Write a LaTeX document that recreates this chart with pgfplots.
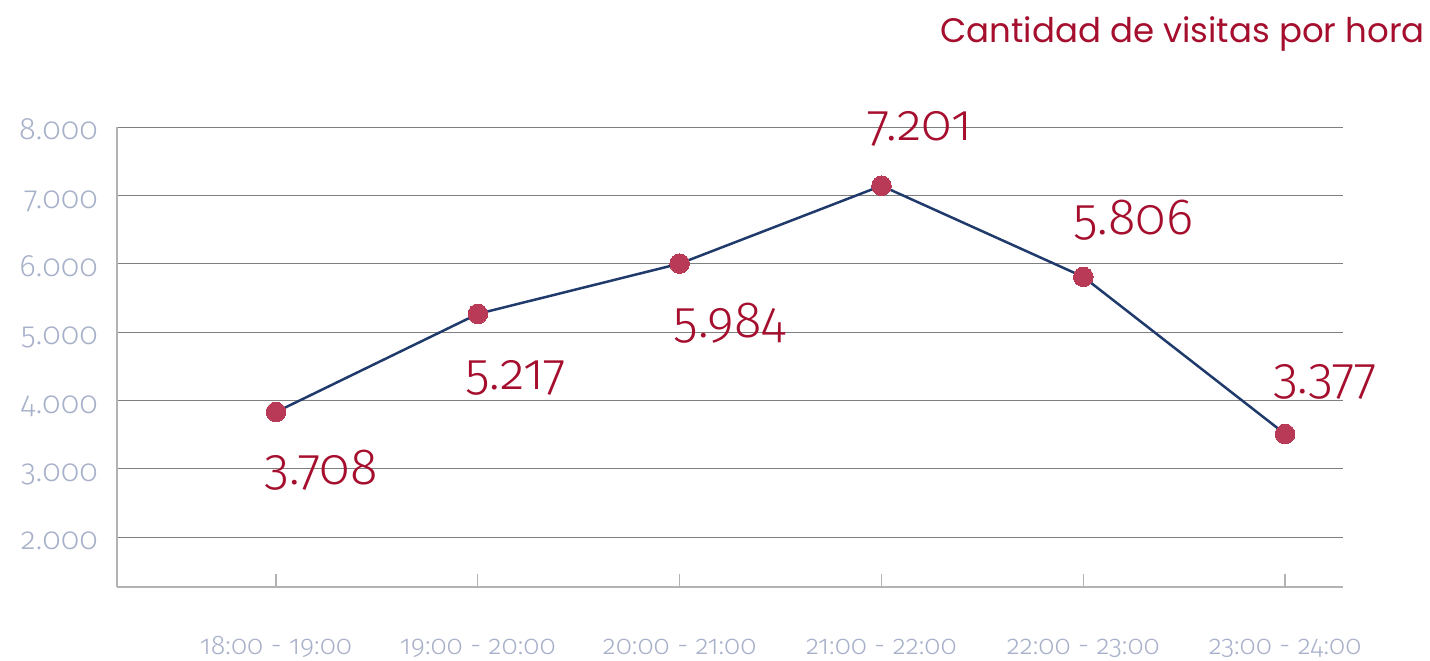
\documentclass[border=0pt]{standalone}
\usepackage{fontspec}
\usepackage{pgfplots}
\usepackage{pgfplotstable}
\pgfplotsset{compat=1.18}
\setmainfont{Fira Sans Light}[Numbers=OldStyle]
\newfontfamily\titlefont{Poppins}
\definecolor{tred}{HTML}{A50F2D}
\definecolor{mred}{HTML}{B83A57}
\definecolor{navy}{HTML}{1F3A6B}
\definecolor{ticklab}{HTML}{A8B1CA}
\definecolor{gridgray}{HTML}{7F7F7F}
\definecolor{axisgray}{HTML}{B3B3B3}
\pgfplotstableread{
x y lab dx dy
0 3829 3.708 45 -72
1 5265 5.217 38 -76
2 6000 5.984 50 -74
3 7140 7.201 38 45
4 5807 5.806 50 42
5 3507 3.377 40 41
}\datatable
\begin{document}
\begin{tikzpicture}
\useasboundingbox (0,0) rectangle (1430pt,661pt);
\node[anchor=base east, font=\titlefont\fontsize{34}{34}\selectfont, text=tred, inner sep=0pt] at (1425pt,618pt) {Cantidad de visitas por hora};
\begin{axis}[
  at={(117pt,74pt)}, anchor=south west,
  scale only axis, width=1226pt, height=460pt,
  xmin=-0.788, xmax=5.287, ymin=1268, ymax=8000,
  clip=false,
  axis lines=left,
  axis line style={draw=axisgray, line width=1.5pt, -},
  ytick={2000,3000,...,8000},
  ymajorgrids, grid style={draw=gridgray, line width=0.9pt},
  xtick={0,...,5},
  xticklabels={18:00 - 19:00,19:00 - 20:00,20:00 - 21:00,21:00 - 22:00,22:00 - 23:00,23:00 - 24:00},
  xtick style={draw=axisgray, line width=1.3pt},
  ytick style={draw=none},
  tick align=inside, major tick length=13pt,
  scaled y ticks=false,
  /pgf/number format/assume math mode=true,
  /pgf/number format/1000 sep={.},
  xticklabel style={anchor=base, yshift=-68pt, inner sep=0pt, text=ticklab, font=\fontsize{27}{27}\selectfont},
  yticklabel style={anchor=base east, xshift=-19pt, yshift=-13pt, inner sep=0pt, text=ticklab, font=\fontsize{31}{31}\selectfont},
]
\addplot[draw=navy, line width=2.5pt, mark=*, mark size=9.8pt,
  mark options={fill=mred, draw=mred, line width=0pt},
  nodes near coords, point meta=explicit symbolic,
  visualization depends on={\thisrow{dx}\as\ldx},
  visualization depends on={\thisrow{dy}\as\ldy},
  nodes near coords align={center},
  every node near coord/.append style={anchor=base, xshift=\ldx pt, yshift=\ldy pt, inner sep=0pt, text=tred, font=\fontsize{51}{51}\selectfont}
] table[x=x, y=y, meta=lab] {\datatable};
\end{axis}
\end{tikzpicture}
\end{document}
